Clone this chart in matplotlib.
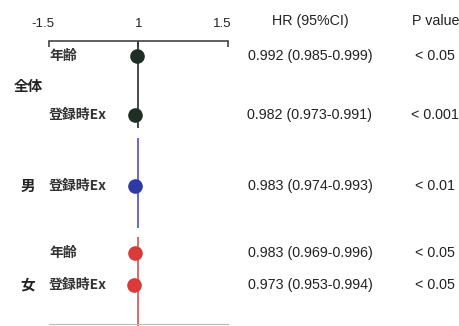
import matplotlib
matplotlib.use("Agg")
import matplotlib.pyplot as plt
import matplotlib.transforms as mtransforms

plt.rcParams['font.family'] = ['Liberation Sans', 'Noto Sans CJK JP', 'DejaVu Sans']

groups = ['全体', '全体', '男', '女', '女']
group_labels = ['全体', '男', '女']
variables = ['年齢', '登録時Ex', '登録時Ex', '年齢', '登録時Ex']
hr = [0.992, 0.982, 0.983, 0.983, 0.973]
ci_low = [0.985, 0.973, 0.974, 0.969, 0.953]
ci_high = [0.999, 0.991, 0.993, 0.996, 0.994]
p_values = ['< 0.05', '< 0.001', '< 0.01', '< 0.05', '< 0.05']
tick_pos = [0.5, 1.0, 1.5]
tick_labels = ['-1.5', '1', '1.5']

# layout (pixel rows)
row_y = [56, 115, 186, 253, 285]
group_y = {'全体': 86, '男': 186, '女': 284}
seg = {'全体': (41, 128), '男': (138, 228), '女': (237, 326)}
dot_col = {'全体': '#1e2f26', '男': '#2d3aa6', '女': '#d93a3a'}
line_col = {'全体': '#3a3a3a', '男': '#5a5acc', '女': '#d46060'}

W, H = 460, 326
fig = plt.figure(figsize=(W / 100, H / 100), dpi=100)

# text overlay axes in pixel coords
tax = fig.add_axes([0, 0, 1, 1])
tax.set_xlim(0, W)
tax.set_ylim(H, 0)
tax.axis('off')

# forest axes
left, right, top, bottom = 49, 228, 41, 324
ax = fig.add_axes([left / W, 1 - bottom / H, (right - left) / W, (bottom - top) / H])
ax.set_xlim(0.5, 1.5)
ax.set_ylim(bottom, top)
ax.patch.set_alpha(0)
for s in ['left', 'right']:
    ax.spines[s].set_visible(False)
ax.spines['top'].set_color('#444444')
ax.spines['top'].set_linewidth(1.2)
ax.spines['bottom'].set_color('#bbbbbb')
ax.spines['bottom'].set_linewidth(0.8)
ax.xaxis.set_ticks_position('top')
ax.xaxis.set_label_position('top')
ax.set_xticks(tick_pos)
ax.set_xticklabels(tick_labels, fontsize=9.5, color='#222222')
ax.tick_params(axis='x', direction='in', length=4, width=1.2, color='#444444', pad=8)
ax.set_yticks([])

# nudge outer tick labels slightly left like the reference
labels = ax.get_xticklabels()
for idx in (0, len(labels) - 1):
    lab = labels[idx]
    lab.set_transform(lab.get_transform() +
                      mtransforms.ScaledTranslation(-6 / 100, 0, fig.dpi_scale_trans))

for g in group_labels:
    y0, y1 = seg[g]
    ax.plot([1, 1], [y0, y1], color=line_col[g], lw=1.3, solid_capstyle='butt', clip_on=False)

for i in range(len(hr)):
    g = groups[i]
    ax.plot(hr[i], row_y[i], 'o', color=dot_col[g], ms=9.5, clip_on=False, zorder=3)

# texts
cjk = ['Noto Sans CJK JP', 'DejaVu Sans']
for g in group_labels:
    tax.text(28, group_y[g], g, fontsize=10.5, fontweight='bold', family=cjk,
             ha='center', va='center', color='#222222')
for i in range(len(hr)):
    tax.text(49, row_y[i], variables[i], fontsize=10, fontweight='bold', family=cjk,
             ha='left', va='center', color='#333333')
    tax.text(310, row_y[i], f"{hr[i]:.3f} ({ci_low[i]:.3f}-{ci_high[i]:.3f})",
             fontsize=10.3, ha='center', va='center', color='#222222')
    tax.text(435, row_y[i], p_values[i], fontsize=10.3, ha='center', va='center', color='#222222')

tax.text(310, 21, 'HR (95%CI)', fontsize=10.3, ha='center', va='center', color='#222222')
tax.text(436, 21, 'P value', fontsize=10.3, ha='center', va='center', color='#222222')

fig.savefig('out.png', dpi=100)
